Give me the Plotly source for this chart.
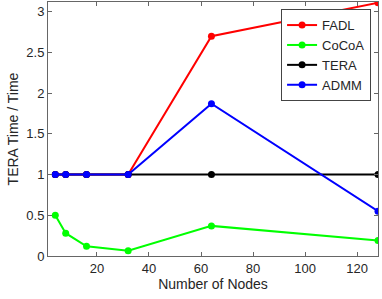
import plotly.graph_objects as go

nodes = [4, 8, 16, 32, 64, 128]
fadl = [1, 1, 1, 1, 2.70, 3.11]
cocoa = [0.50, 0.28, 0.12, 0.065, 0.37, 0.19]
tera = [1, 1, 1, 1, 1, 1]
admm = [1, 1, 1, 1, 1.87, 0.55]

series = [("FADL", fadl, "#ff0000"), ("CoCoA", cocoa, "#00ff00"),
          ("TERA", tera, "#000000"), ("ADMM", admm, "#0000ff")]

fig = go.Figure()
for name, vals, col in series:
    fig.add_trace(go.Scatter(x=nodes, y=vals, name=name, mode="lines+markers",
                             line=dict(color=col, width=2),
                             marker=dict(color=col, size=7)))

axcol = "#666666"
fig.update_layout(
    width=382, height=299,
    margin=dict(l=48, r=4, t=2, b=43, autoexpand=False),
    plot_bgcolor="white", paper_bgcolor="white",
    font=dict(family="Liberation Sans, Arial, sans-serif", color="#262626", size=12),
    showlegend=True,
    legend=dict(x=0.979, y=0.972, xanchor="right", yanchor="top",
                bordercolor="#444444", borderwidth=1, bgcolor="white",
                font=dict(size=13), tracegroupgap=0, itemwidth=30),
)
fig.update_xaxes(range=[1.2, 128], tickvals=[20, 40, 60, 80, 100, 120],
                 showgrid=False, zeroline=False, showline=True, linecolor=axcol,
                 mirror="ticks", ticks="inside", ticklen=4, tickcolor=axcol,
                 tickfont=dict(size=13), automargin=False,
                 title=dict(text="Number of Nodes", font=dict(size=14), standoff=4))
fig.update_yaxes(range=[0, 3.12], tickvals=[0, 0.5, 1, 1.5, 2, 2.5, 3],
                 ticktext=["0", "0.5", "1", "1.5", "2", "2.5", "3"],
                 showgrid=False, zeroline=False, showline=True, linecolor=axcol,
                 mirror="ticks", ticks="inside", ticklen=4, tickcolor=axcol,
                 tickfont=dict(size=13), automargin=False,
                 title=dict(text="TERA Time / Time", font=dict(size=14), standoff=4))

fig.write_html("out.html", config={"displayModeBar": False},
               post_script="document.body.style.margin='0';")
